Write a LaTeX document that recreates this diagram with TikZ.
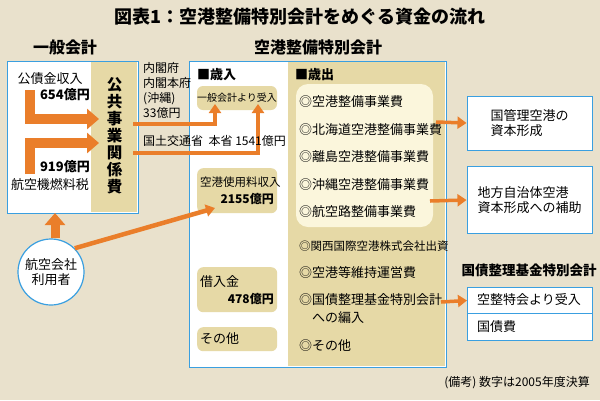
\documentclass[tikz,border=0pt]{standalone}
\usepackage{fontspec}
\setmainfont{Noto Sans CJK JP}
\usetikzlibrary{arrows.meta}
\definecolor{bg}{HTML}{E9E1CC}
\definecolor{tan}{HTML}{E6D9A6}
\definecolor{lite}{HTML}{FBF6DC}
\definecolor{org}{HTML}{EA7E2A}
\definecolor{blu}{HTML}{3A9FE0}
\tikzset{
 acct/.style={draw=blu,line width=1.2pt,fill=white},
 rbox/.style={fill=tan,rounded corners=6pt},
 txt/.style={font=\fontsize{13}{15}\selectfont,inner sep=0pt},
 sm/.style={font=\fontsize{11.5}{13}\selectfont,inner sep=0pt},
 smb/.style={font=\fontsize{12}{14}\selectfont\bfseries,inner sep=0pt},
 hd/.style={font=\fontsize{16}{18}\selectfont\bfseries,inner sep=0pt},
 fat/.style={org,line width=10pt,-{Triangle[width=20pt,length=12pt]}},
 thin/.style={org,line width=4.5pt,-{Triangle[width=12pt,length=9pt]}},
}
\begin{document}
\begin{tikzpicture}[x=1pt,y=-1pt]
\fill[bg] (0,0) rectangle (600,400);
\useasboundingbox (0,0) rectangle (600,400);
\node[hd,font=\fontsize{18}{20}\selectfont\bfseries] (title) at (300,17) {図表1：空港整備特別会計をめぐる資金の流れ};
% general account
\node[hd] (ga) at (65,47) {一般会計};
\node[acct,minimum width=131pt,minimum height=152pt,anchor=north west,inner sep=0pt] (gabox) at (7,61) {};
\fill[tan] (91,62) rectangle (137.4,212.4);
\node[txt,font=\fontsize{15.5}{17}\selectfont\bfseries,align=center] (kk) at (114.5,136) {公\\共\\事\\業\\関\\係\\費};
\node[txt] (kosai) at (50,79) {公債金収入};
\node[smb,font=\fontsize{13}{15}\selectfont\bfseries,anchor=east] (v654) at (90,95) {654億円};
\node[smb,font=\fontsize{13}{15}\selectfont\bfseries,anchor=east] (v919) at (90,167) {919億円};
\node[txt] (nenryo) at (50,185) {航空機燃料税};
\draw[fat] (30,90) -- (30,119) -- (99,119);
\draw[fat] (30,174) -- (30,143) -- (99,143);
% special account
\node[hd] (sa) at (318,47) {空港整備特別会計};
\node[acct,minimum width=257pt,minimum height=306pt,anchor=north west,inner sep=0pt] (sabox) at (189,61) {};
\fill[tan] (288,62) rectangle (445.4,366.4);
\fill[lite,rounded corners=12pt] (296,84) rectangle (433,227);
\node[txt,font=\fontsize{13}{15}\selectfont\bfseries,anchor=west] (sainyu) at (197,75) {■歳入};
\node[txt,font=\fontsize{13}{15}\selectfont\bfseries,anchor=west] (saishutsu) at (295,75) {■歳出};
\node[rbox,minimum width=80pt,minimum height=24pt,sm,font=\fontsize{10}{12}\selectfont] (ippan) at (237,98) {一般会計より受入};
\node[rbox,minimum width=80pt,minimum height=45pt,anchor=north west] (shiyo) at (197,168) {};
\node[sm,anchor=west] at (200,182) {空港使用料収入};
\node[smb,anchor=east] at (274,199) {2155億円};
\node[rbox,minimum width=80pt,minimum height=45pt,anchor=north west] (kari) at (197,267) {};
\node[txt,anchor=west] at (200,282) {借入金};
\node[smb,anchor=east] at (274,299) {478億円};
\node[rbox,minimum width=80pt,minimum height=24pt,anchor=north west] (sonota1) at (197,327) {};
\node[txt,anchor=west] at (200,339) {その他};
\draw[thin] (133,124) -- (215,124) -- (215,104);
\draw[thin] (133,153) -- (258,153) -- (258,104);
% labels between
\node[sm,anchor=west,align=left,font=\fontsize{12}{15}\selectfont] (naikaku) at (143,90) {内閣府\\内閣本府\\(沖縄)\\33億円};
\node[sm,anchor=west,font=\fontsize{12}{14}\selectfont] (kokudo) at (143,141) {国土交通省\ \ 本省 1541億円};
% expenditures
\foreach \t/\y in {空港整備事業費/102,北海道空港整備事業費/130,離島空港整備事業費/157,沖縄空港整備事業費/185,航空路整備事業費/212,空港等維持運営費/273,国債整理基金特別会計/300,その他/346}
  \node[txt,anchor=west] at (299,\y) {◎\t};
\node[sm,anchor=west,font=\fontsize{11.5}{13}\selectfont] at (299,246) {◎関西国際空港株式会社出資};
\node[txt,anchor=west] at (312,318) {への編入};
\coordinate (e1) at (436,122);
\coordinate (e2) at (430,201);
\coordinate (e3) at (441,302);
% right boxes
\node[acct,line width=1pt,minimum width=125pt,minimum height=54pt,txt,align=left] (kuni) at (529.5,123) {国管理空港の\\資本形成};
\node[acct,line width=1pt,minimum width=125pt,minimum height=67pt,txt,align=left] (chiho) at (529.5,200) {地方自治体空港\\資本形成への補助};
\node[hd,font=\fontsize{13.5}{16}\selectfont\bfseries] (kokusai) at (529,270) {国債整理基金特別会計};
\node[acct,line width=1pt,minimum width=125pt,minimum height=26pt,anchor=north west] (uke) at (467,287) {};
\node[txt,anchor=west] at (477,300) {空整特会より受入};
\node[acct,line width=1pt,minimum width=125pt,minimum height=27pt,anchor=north west] (kokusaihi) at (467,313) {};
\node[txt,anchor=west] at (477,326.5) {国債費};
\draw[thin,line width=3.5pt] (e1) -- (kuni.west);
\draw[thin,line width=3.5pt] (e2) -- (chiho.west);
\draw[thin,line width=3.5pt] (e3) -- (uke.west);
% users
\node[circle,acct,minimum size=66pt,txt,align=center] (user) at (51,272) {航空会社\\利用者};
\draw[fat,line width=9pt] (user.north) ++(4,0) -- (55,213);
\draw[thin] (user.north east) -- (215,208);
\node[sm,font=\fontsize{12}{14}\selectfont,anchor=east] (note) at (590,383) {(備考) 数字は2005年度決算};
\end{tikzpicture}
\end{document}
